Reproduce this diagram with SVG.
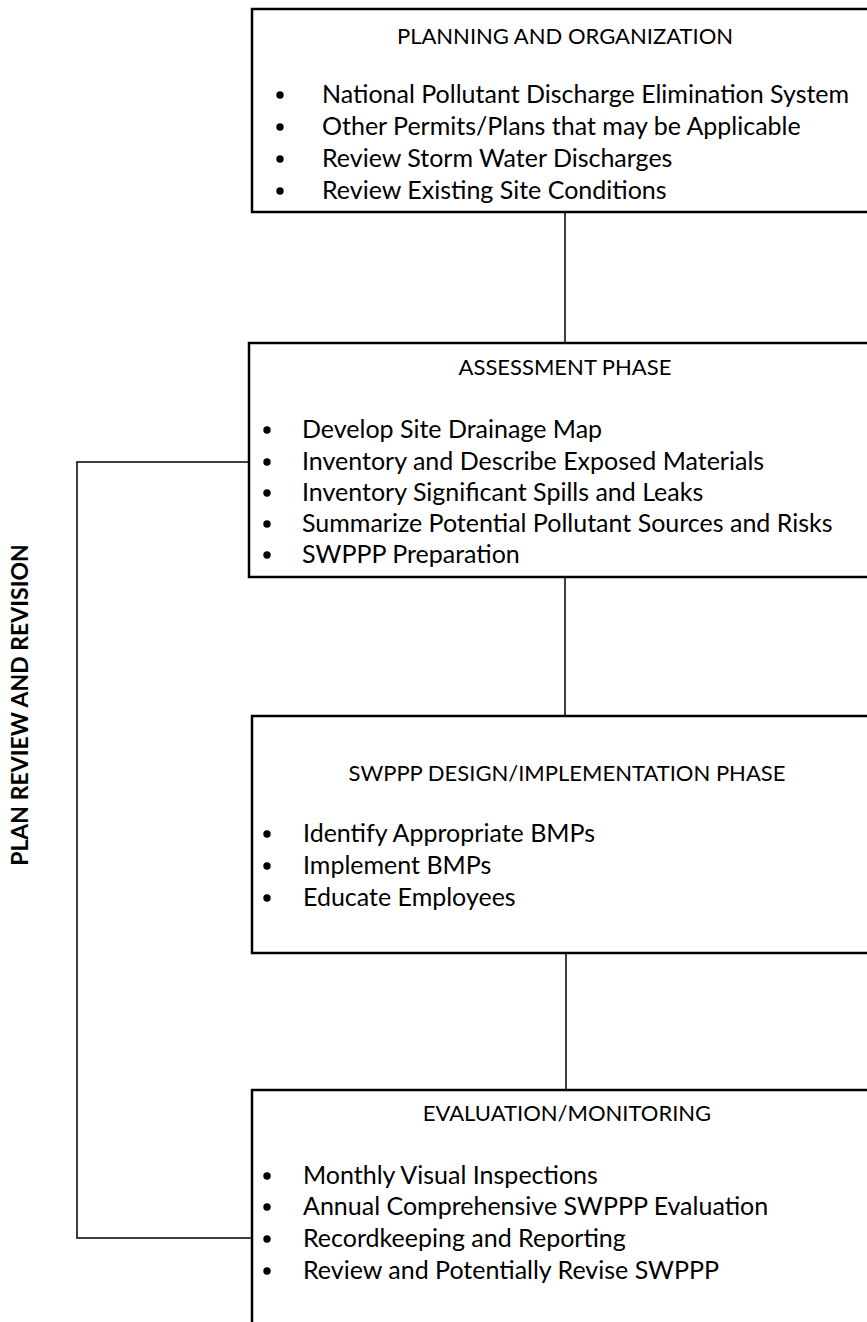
<svg xmlns="http://www.w3.org/2000/svg" width="867" height="1322" viewBox="0 0 867 1322">
<style>
.box{fill:#fff;stroke:#000;stroke-width:2.5}
.con{fill:none;stroke:#000;stroke-width:1.5}
.t{font-family:Lato,"Liberation Sans",sans-serif;font-size:25px;fill:#000}
.h{font-size:22px;text-anchor:middle}
.side{font-family:Lato,"Liberation Sans",sans-serif;font-size:23px;font-weight:bold;fill:#000;text-anchor:middle}
</style>
<rect width="867" height="1322" fill="#fff"/>
<g id="connectors">
<line class="con" x1="565" y1="212" x2="565" y2="343"/>
<line class="con" x1="565" y1="577" x2="565" y2="716"/>
<line class="con" x1="566" y1="953" x2="566" y2="1090"/>
<polyline class="con" points="249,462 77,462 77,1238 252,1238"/>
</g>
<g id="side-label">
<text class="side" transform="translate(28,705) rotate(-90)">PLAN REVIEW AND REVISION</text>
</g>
<g id="planning">
<rect class="box" x="252" y="9" width="640" height="203"/>
<text class="t h" x="565" y="44">PLANNING AND ORGANIZATION</text>
<g class="t">
<circle cx="280" cy="95" r="3.7"/><text x="322" y="103">National Pollutant Discharge Elimination System</text>
<circle cx="280" cy="127" r="3.7"/><text x="322" y="135">Other Permits/Plans that may be Applicable</text>
<circle cx="280" cy="159" r="3.7"/><text x="322" y="167">Review Storm Water Discharges</text>
<circle cx="280" cy="191" r="3.7"/><text x="322" y="199">Review Existing Site Conditions</text>
</g>
</g>
<g id="assessment">
<rect class="box" x="249" y="343" width="640" height="234"/>
<text class="t h" x="565" y="375">ASSESSMENT PHASE</text>
<g class="t">
<circle cx="267" cy="430" r="3.7"/><text x="302" y="438">Develop Site Drainage Map</text>
<circle cx="267" cy="462" r="3.7"/><text x="302" y="470">Inventory and Describe Exposed Materials</text>
<circle cx="267" cy="493" r="3.7"/><text x="302" y="501">Inventory Significant Spills and Leaks</text>
<circle cx="267" cy="524" r="3.7"/><text x="302" y="532">Summarize Potential Pollutant Sources and Risks</text>
<circle cx="267" cy="555" r="3.7"/><text x="302" y="563">SWPPP Preparation</text>
</g>
</g>
<g id="design">
<rect class="box" x="252" y="716" width="640" height="237"/>
<text class="t h" x="567" y="781">SWPPP DESIGN/IMPLEMENTATION PHASE</text>
<g class="t">
<circle cx="267" cy="834" r="3.7"/><text x="303" y="842">Identify Appropriate BMPs</text>
<circle cx="267" cy="866" r="3.7"/><text x="303" y="874">Implement BMPs</text>
<circle cx="267" cy="898" r="3.7"/><text x="303" y="906">Educate Employees</text>
</g>
</g>
<g id="evaluation">
<rect class="box" x="252" y="1090" width="640" height="260"/>
<text class="t h" x="567" y="1121">EVALUATION/MONITORING</text>
<g class="t">
<circle cx="267" cy="1176" r="3.7"/><text x="303" y="1184">Monthly Visual Inspections</text>
<circle cx="267" cy="1207" r="3.7"/><text x="303" y="1215">Annual Comprehensive SWPPP Evaluation</text>
<circle cx="267" cy="1239" r="3.7"/><text x="303" y="1247">Recordkeeping and Reporting</text>
<circle cx="267" cy="1271" r="3.7"/><text x="303" y="1279">Review and Potentially Revise SWPPP</text>
</g>
</g>
</svg>
